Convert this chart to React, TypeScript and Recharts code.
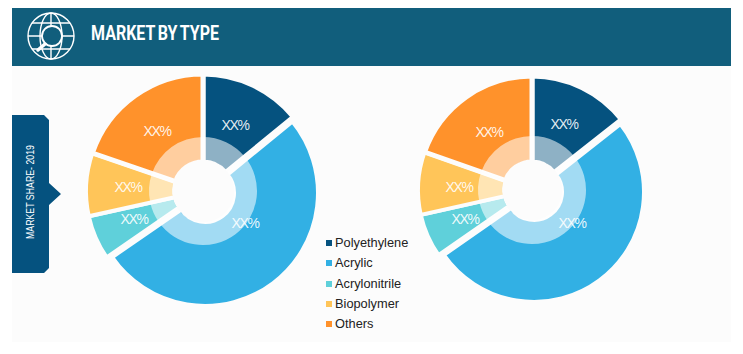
import React from "react";
import { PieChart, Pie, Cell, Legend, Sector } from "recharts";

const categories = ["Polyethylene", "Acrylic", "Acrylonitrile", "Biopolymer", "Others"];
const leftValues = [14.2, 51.7, 6.2, 8.8, 19.9];
const rightValues = [14.4, 50.9, 6.2, 8.9, 19.6];
const colors = ["#05527f", "#32b0e4", "#5fd0da", "#ffc559", "#ff922b"];
const gapWidths = [5, 4, 4, 4, 5];
const labelText = "XX%";
const title = "MARKET BY TYPE";
const sideText = "MARKET SHARE- 2019";

// label offset from each pie's centre
const leftLabelOffsets = [[32, -66], [42, 32], [-69, 28], [-75, -4], [-46, -60]];
const rightLabelOffsets = [[32, -66], [40, 33], [-67, 29], [-73, -3], [-43, -58]];

// the large slice sits a little away from the others
const EXPLODED_INDEX = 1;
const EXPLODE_SHIFT = 2;
const EXPLODE_SHRINK = 4;

const toData = (values: number[]) =>
  categories.map((name, i) => ({ name, value: values[i], fill: colors[i] }));

const leftData = toData(leftValues);
const rightData = toData(rightValues);

const explodedShape = (props: any) => {
  const hit = props.index === EXPLODED_INDEX;
  return (
    <Sector
      {...props}
      cx={hit ? props.cx + EXPLODE_SHIFT : props.cx}
      cy={hit ? props.cy + EXPLODE_SHIFT : props.cy}
      outerRadius={hit ? props.outerRadius - EXPLODE_SHRINK : props.outerRadius}
    />
  );
};

const makeLabel = (offsets: number[][]) => (p: any) => {
  const [dx, dy] = offsets[p.index];
  return (
    <text
      x={p.cx + dx}
      y={p.cy + dy}
      fill="#fff"
      fillOpacity={0.9}
      fontFamily="Liberation Sans, Arial, sans-serif"
      fontSize={14}
      letterSpacing={-1.3}
      textAnchor="middle"
      dominantBaseline="central"
    >
      {labelText}
    </text>
  );
};

const LegendList = ({ payload }: any) => {
  const items = categories
    .map((c) => (payload || []).find((e: any) => e.value === c && e.color !== "#fff"))
    .filter(Boolean);
  return (
    <div style={{ fontFamily: "Liberation Sans, Arial, sans-serif", fontSize: 12.8, color: "#222" }}>
      {items.map((e: any) => (
        <div key={e.value} style={{ height: 20.3, lineHeight: "20.3px", display: "flex", alignItems: "center", whiteSpace: "nowrap" }}>
          <span style={{ width: 6, height: 6, background: e.color, marginRight: 3, display: "inline-block" }} />
          {e.value}
        </div>
      ))}
    </div>
  );
};

export default function App() {
  return (
    <div style={{ position: "absolute", left: 0, top: 0, width: 743, height: 354, background: "#fff", overflow: "hidden" }}>
      <svg width={743} height={354} style={{ position: "absolute", left: 0, top: 0 }}>
        <rect x={12} y={8} width={719} height={334} fill="#fcfcfc" />
        <rect x={12} y={8} width={719} height={58} fill="#115e7c" />
        <g fill="none" stroke="#fff" strokeWidth={1.4}>
          <circle cx={51} cy={36} r={23} />
          <ellipse cx={51} cy={36} rx={11} ry={23} />
          <line x1={51} y1={13} x2={51} y2={59} />
          <line x1={28} y1={36} x2={74} y2={36} />
          <line x1={32} y1={23} x2={70} y2={23} />
          <line x1={32} y1={49} x2={70} y2={49} />
          <circle cx={52} cy={36} r={10} fill="#115e7c" strokeWidth={1.8} />
          <line x1={45} y1={44} x2={38} y2={50} strokeWidth={3.5} strokeLinecap="round" />
        </g>
        <text
          x={91}
          y={40}
          fill="#fff"
          fontFamily="Roboto, sans-serif"
          fontWeight={700}
          fontSize={20}
          wordSpacing={-1.5}
          textLength={128}
          lengthAdjust="spacingAndGlyphs"
        >
          {title}
        </text>
        <path d="M12 115 H44 L49 120 V183 L61 194 L49 205 V268 L44 273 H12 Z" fill="#05527f" />
        <text
          transform="translate(30 192) rotate(-90)"
          fill="#fff"
          fontFamily="Liberation Sans, Arial, sans-serif"
          fontSize={10}
          textAnchor="middle"
          dominantBaseline="central"
          textLength={94}
          lengthAdjust="spacingAndGlyphs"
        >
          {sideText}
        </text>
      </svg>
      <div style={{ position: "absolute", left: 0, top: 0 }}>
        <PieChart width={743} height={354} margin={{ top: 0, right: 0, bottom: 0, left: 0 }}>
          <Pie data={leftData} dataKey="value" nameKey="name" cx={203} cy={191} innerRadius={29} outerRadius={117} shape={explodedShape}
            startAngle={90} endAngle={-270} isAnimationActive={false} label={makeLabel(leftLabelOffsets)} labelLine={false}>
            {leftData.map((d, i) => <Cell key={d.name} fill={d.fill} stroke="#fcfcfc" strokeWidth={gapWidths[i]} />)}
          </Pie>
          <Pie data={leftData} dataKey="value" cx={203} cy={191} innerRadius={31} outerRadius={54} legendType="none"
            startAngle={90} endAngle={-270} isAnimationActive={false} stroke="none">
            {leftData.map((d) => <Cell key={d.name} fill="#fff" fillOpacity={0.55} stroke="none" />)}
          </Pie>
          <Pie data={rightData} dataKey="value" nameKey="name" cx={532} cy={190} innerRadius={28} outerRadius={114} legendType="none" shape={explodedShape}
            startAngle={90} endAngle={-270} isAnimationActive={false} label={makeLabel(rightLabelOffsets)} labelLine={false}>
            {rightData.map((d, i) => <Cell key={d.name} fill={d.fill} stroke="#fcfcfc" strokeWidth={gapWidths[i]} />)}
          </Pie>
          <Pie data={rightData} dataKey="value" cx={532} cy={190} innerRadius={30} outerRadius={54} legendType="none"
            startAngle={90} endAngle={-270} isAnimationActive={false} stroke="none">
            {rightData.map((d) => <Cell key={d.name} fill="#fff" fillOpacity={0.55} stroke="none" />)}
          </Pie>
          <Legend layout="vertical" align="center" verticalAlign="middle" content={<LegendList />}
            wrapperStyle={{ left: 326, top: 233, width: 100 }} />
        </PieChart>
      </div>
    </div>
  );
}
